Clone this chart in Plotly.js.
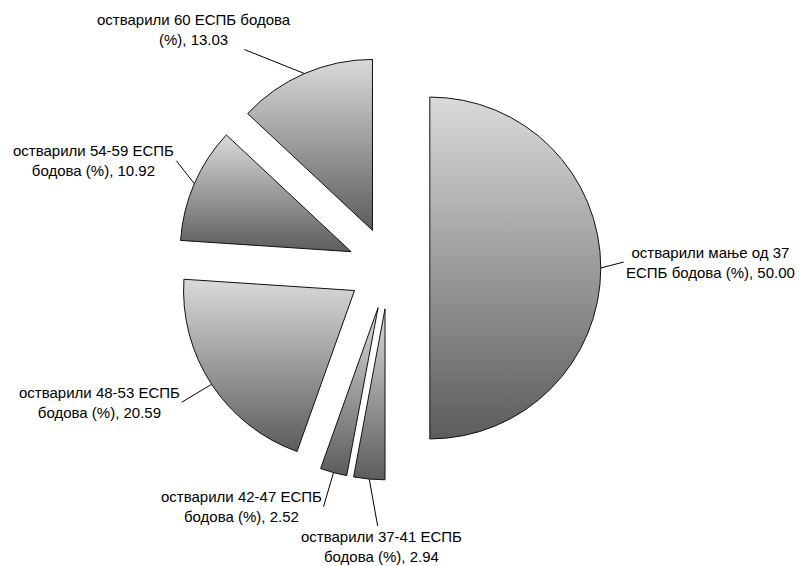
<!DOCTYPE html>
<html>
<head>
<meta charset="utf-8">
<script src="https://cdn.plot.ly/plotly-3.0.1.min.js"></script>
<style>html,body{margin:0;padding:0;background:#fff;}#chart{width:800px;height:566px;}</style>
</head>
<body>
<div id="chart"></div>
<script>
var categories = [
  "остварили мање од 37<br>ЕСПБ бодова (%)",
  "остварили 37-41 ЕСПБ<br>бодова (%)",
  "остварили 42-47 ЕСПБ<br>бодова (%)",
  "остварили 48-53 ЕСПБ<br>бодова (%)",
  "остварили 54-59 ЕСПБ<br>бодова (%)",
  "остварили 60 ЕСПБ бодова<br>(%)"
];
var values = [50.00, 2.94, 2.52, 20.59, 10.92, 13.03];

// label placement (pixel offsets of the text from the slice's outer midpoint)
var labelStyle = [
  {ax: 23, ay: -6, xanchor: "left"},
  {ax: 12, ay: 67, xanchor: "center"},
  {ax: -10, ay: 34, xanchor: "right"},
  {ax: -30, ay: 18, xanchor: "right"},
  {ax: -18, ay: -23, xanchor: "right"},
  {ax: -110, ay: -44, xanchor: "center"}
];
var PULL = 0.24;
var W = 800, H = 566;
var FONT = {family: "Liberation Sans, Arial, sans-serif", size: 15, color: "#000"};

var trace = {
  type: "pie",
  labels: categories,
  values: values,
  sort: false,
  direction: "clockwise",
  rotation: 0,
  pull: PULL,
  textinfo: "none",
  hoverinfo: "none",
  marker: {colors: ["#9a9a9a","#9a9a9a","#9a9a9a","#9a9a9a","#9a9a9a","#9a9a9a"], line: {color: "#111", width: 1}},
  automargin: false,
  domain: {x: [0.221, 0.751], y: [0.152, 0.901]},
  showlegend: false
};
var layout = {
  width: W, height: H,
  margin: {l: 0, r: 0, t: 0, b: 0},
  paper_bgcolor: "#fff",
  font: FONT,
  showlegend: false
};

function applyGradient(gd){
  var svg = gd.querySelector("svg.main-svg");
  var ns = "http://www.w3.org/2000/svg";
  if (!document.getElementById("sliceGrad")) {
    var defs = document.createElementNS(ns, "defs");
    var lg = document.createElementNS(ns, "linearGradient");
    lg.setAttribute("id", "sliceGrad");
    lg.setAttribute("x1", "0"); lg.setAttribute("y1", "0");
    lg.setAttribute("x2", "0"); lg.setAttribute("y2", "1");
    [["0", "#dadada"], ["1", "#5c5c5c"]].forEach(function(s){
      var st = document.createElementNS(ns, "stop");
      st.setAttribute("offset", s[0]); st.setAttribute("stop-color", s[1]);
      lg.appendChild(st);
    });
    defs.appendChild(lg);
    svg.insertBefore(defs, svg.firstChild);
  }
  gd.querySelectorAll("g.slice path.surface").forEach(function(p){
    p.style.fill = "url(#sliceGrad)";
  });
}

Plotly.newPlot("chart", [trace], layout, {staticPlot: true}).then(function(gd){
  var cd = gd.calcdata[0];
  var cd0 = cd[0];
  var cx = cd0.cx, cy = cd0.cy, r = cd0.r;
  var total = values.reduce(function(a, b){ return a + b; }, 0);
  var cum = 0;
  var anns = values.map(function(v, i){
    var mid = (cum + v / 2) / total * 2 * Math.PI;
    cum += v;
    var dx, dy;
    if (cd[i] && cd[i].pxmid) { dx = cd[i].pxmid[0]; dy = cd[i].pxmid[1]; }
    else { dx = r * Math.sin(mid); dy = -r * Math.cos(mid); }
    var px = cx + dx * (1 + PULL), py = cy + dy * (1 + PULL);
    var s = labelStyle[i];
    return {
      xref: "paper", yref: "paper",
      x: px / W, y: 1 - py / H,
      ax: s.ax, ay: s.ay,
      xanchor: s.xanchor, yanchor: "middle",
      text: categories[i] + ", " + v.toFixed(2),
      align: "center",
      showarrow: true, arrowhead: 0, arrowwidth: 1, arrowcolor: "#000",
      standoff: 0, startstandoff: 0,
      font: FONT
    };
  });
  return Plotly.relayout(gd, {annotations: anns});
}).then(function(){
  applyGradient(document.getElementById("chart"));
});
</script>
</body>
</html>
